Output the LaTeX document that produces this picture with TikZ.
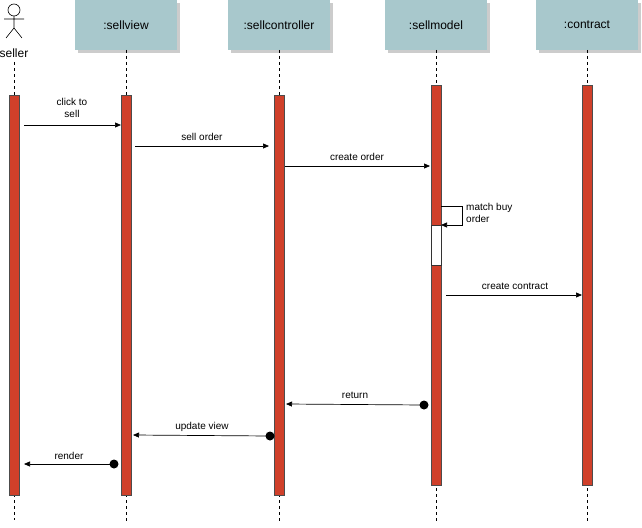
\documentclass[tikz,border=0pt]{standalone}
\usepackage{fontspec}
\setmainfont{Liberation Sans}
\usetikzlibrary{arrows.meta,shadows}
\definecolor{hdr}{HTML}{A8C8CC}
\definecolor{act}{HTML}{D0402A}
\begin{document}
\begin{tikzpicture}[x=1pt,y=-1pt,
  hbox/.style={draw=none,fill=hdr,minimum width=102pt,minimum height=50pt,inner sep=0pt,drop shadow={shadow xshift=3pt,shadow yshift=-3pt,opacity=0.2,fill=black}},
  life/.style={dashed,line width=0.6pt},
  bar/.style={draw=black!70,fill=act,line width=0.5pt},
  msg/.style={-{Triangle[length=6pt,width=5pt]},line width=0.7pt},
  lbl/.style={font=\fontsize{10}{12}\selectfont,align=center,inner sep=0pt},
  every node/.style={font=\fontsize{12}{14}\selectfont}]
\useasboundingbox (0,0) rectangle (642,527);
\foreach \x/\t/\n in {126/:sellview/h1,279/:sellcontroller/h2,436/:sellmodel/h3,587/:contract/h4}
  \node[hbox] (\n) at (\x,25) {\t};
% actor
\draw[line width=0.6pt] (14,10) circle (6);
\draw[line width=0.6pt] (14,16) -- (14,28) (4,19) -- (24,19) (14,28) -- (6,38) (14,28) -- (22,38);
\node (seller) at (14,53) {seller};
% lifelines
\draw[life] (14,62) -- (14,520);
\foreach \x in {126,279,436,587} \draw[life] (\x,50) -- (\x,522);
% bars
\draw[bar] (9,95) rectangle (19,495);
\draw[bar] (121,95) rectangle (131,495);
\draw[bar] (274,95) rectangle (284,495);
\draw[bar] (431,85) rectangle (441,485);
\draw[bar] (582,85) rectangle (592,485);
\draw[draw=black!80,fill=white,line width=0.5pt] (431,225) rectangle (441,265);
% messages
\coordinate (a1) at (24,125); \coordinate (b1) at (121,125);
\draw[msg] (a1) -- (b1);
\node[lbl] at (72,108) {click to\\sell};
\coordinate (a2) at (135,146); \coordinate (b2) at (269,146);
\draw[msg] (a2) -- (b2);
\node[lbl] at (202,137) {sell order};
\coordinate (a3) at (285,166); \coordinate (b3) at (430,166);
\draw[msg] (a3) -- (b3);
\node[lbl] at (357,157) {create order};
\coordinate (a4) at (441,206); \coordinate (b4) at (441,225);
\draw[msg] (a4) -- (462,206) -- (462,225) -- (b4);
\node[lbl,align=left,anchor=west] at (466,213) {match buy\\order};
\coordinate (a5) at (446,295); \coordinate (b5) at (582,295);
\draw[msg] (a5) -- (b5);
\node[lbl] at (515,286) {create contract};
\coordinate (a6) at (424,405); \coordinate (b6) at (286,404);
\draw[msg] (a6) -- (b6); \fill (a6) circle (4.5);
\node[lbl] at (355,395) {return};
\coordinate (a7) at (270,436); \coordinate (b7) at (133,435);
\draw[msg] (a7) -- (b7); \fill (a7) circle (4.5);
\node[lbl] at (202,427) {update view};
\coordinate (a8) at (114,464); \coordinate (b8) at (24,464);
\draw[msg] (a8) -- (b8); \fill (a8) circle (4.5);
\node[lbl] at (69,456) {render};
\end{tikzpicture}
\end{document}
